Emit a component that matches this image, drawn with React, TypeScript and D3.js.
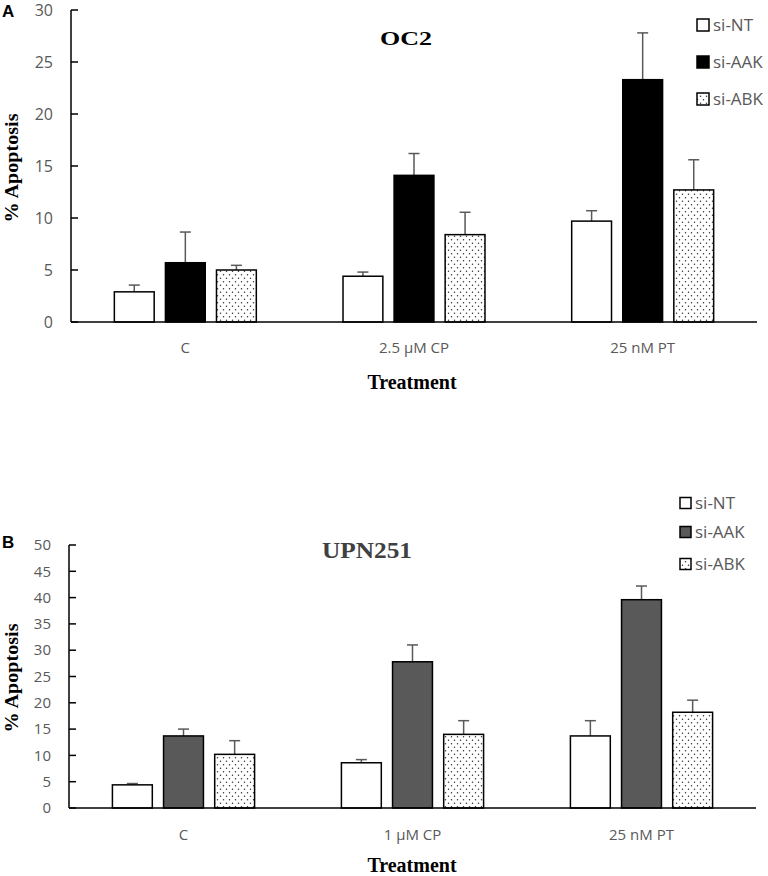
import * as d3 from "d3";

const seriesNames = ["si-NT", "si-AAK", "si-ABK"];

const categoriesA = ["C", "2.5 µM CP", "25 nM PT"];
const meanA = [
  [2.9, 4.4, 9.7],
  [5.7, 14.1, 23.3],
  [5.0, 8.4, 12.7],
];
const errA = [
  [0.65, 0.4, 1.0],
  [2.95, 2.1, 4.5],
  [0.45, 2.15, 2.9],
];
const yTicksA = [0, 5, 10, 15, 20, 25, 30];

const categoriesB = ["C", "1 µM CP", "25 nM PT"];
const meanB = [
  [4.4, 8.6, 13.7],
  [13.7, 27.8, 39.6],
  [10.2, 14.0, 18.2],
];
const errB = [
  [0.25, 0.6, 2.9],
  [1.3, 3.2, 2.6],
  [2.6, 2.6, 2.3],
];
const yTicksB = [0, 5, 10, 15, 20, 25, 30, 35, 40, 45, 50];

const sans = "'Open Sans', 'Noto Sans', sans-serif";
const serif = "'Liberation Serif', 'DejaVu Serif', serif";
const gray = "#595959";

interface PanelProps {
  id: string;
  letter: string;
  title: string;
  titleSize: number;
  titleLength: number;
  titleColor: string;
  titleX: number;
  titleY: number;
  categories: string[];
  means: number[][];
  errs: number[][];
  yTicks: number[];
  xRange: [number, number];
  yRange: [number, number];
  letterY: number;
  aakFill: string;
  legendX: number;
  legendYs: number[];
  legendSize: number;
  tickFont: number;
  xLabelY: number;
  treatmentY: number;
  yLabelY: number;
}

function Panel(p: PanelProps) {
  const x0 = d3
    .scaleBand<string>()
    .domain(p.categories)
    .range(p.xRange)
    .paddingInner(0.33)
    .paddingOuter(0.165);
  const x1 = d3
    .scaleBand<string>()
    .domain(seriesNames)
    .range([0, x0.bandwidth()])
    .paddingInner(0.22)
    .paddingOuter(0.11);
  const yMax = p.yTicks[p.yTicks.length - 1];
  const y = d3.scaleLinear().domain([0, yMax]).range(p.yRange);

  const fills = ["#ffffff", p.aakFill, `url(#dots-${p.id})`];
  const axisX = p.xRange[0];
  const capW = 11;

  return (
    <g>
      <defs>
        <pattern id={`dots-${p.id}`} width={6} height={7} patternUnits="userSpaceOnUse">
          <rect width={6} height={7} fill="#ffffff" />
          <circle cx={1.5} cy={1.75} r={0.75} fill="#333" />
          <circle cx={4.5} cy={5.25} r={0.75} fill="#333" />
        </pattern>
      </defs>

      <text x={2} y={p.letterY} fontFamily="'Liberation Sans', Arial, sans-serif" fontWeight="bold" fontSize={17}>
        {p.letter}
      </text>

      {/* bars and error bars */}
      {seriesNames.map((s, si) =>
        p.categories.map((c, ci) => {
          const bx = (x0(c) ?? 0) + (x1(s) ?? 0);
          const bw = x1.bandwidth();
          const v = p.means[si][ci];
          const top = p.errs[si][ci] + v;
          const cx = bx + bw / 2;
          return (
            <g key={`${s}-${c}`}>
              <line x1={cx} x2={cx} y1={y(v)} y2={y(top)} stroke={gray} strokeWidth={1.5} />
              <line x1={cx - capW / 2} x2={cx + capW / 2} y1={y(top)} y2={y(top)} stroke={gray} strokeWidth={1.5} />
              <rect
                x={bx}
                y={y(v)}
                width={bw}
                height={y(0) - y(v)}
                fill={fills[si]}
                stroke="#000"
                strokeWidth={1.5}
              />
            </g>
          );
        })
      )}

      {/* y axis */}
      <line x1={axisX} x2={axisX} y1={y(0)} y2={y(yMax)} stroke="#000" strokeWidth={1.5} />
      {p.yTicks.map((t) => (
        <g key={t}>
          <line x1={axisX} x2={axisX + 7} y1={y(t)} y2={y(t)} stroke="#000" strokeWidth={1.5} />
          <text
            x={axisX - 18}
            y={y(t)}
            dy="0.35em"
            textAnchor="end"
            fontFamily={sans}
            fontSize={p.tickFont}
            fill={gray}
          >
            {t}
          </text>
        </g>
      ))}

      {/* x axis */}
      <line x1={axisX} x2={p.xRange[1]} y1={y(0)} y2={y(0)} stroke="#000" strokeWidth={1.5} />
      {p.categories.map((c) => (
        <text
          key={c}
          x={(x0(c) ?? 0) + x0.bandwidth() / 2}
          y={p.xLabelY}
          textAnchor="middle"
          fontFamily={sans}
          fontSize={15}
          fill={gray}
        >
          {c}
        </text>
      ))}

      <text x={412} y={p.treatmentY} textAnchor="middle" fontFamily={serif} fontWeight="bold" fontSize={20}>
        Treatment
      </text>
      <text
        transform={`translate(18,${p.yLabelY}) rotate(-90)`}
        textAnchor="middle"
        fontFamily={serif}
        fontWeight="bold"
        fontSize={18}
        textLength={109}
        lengthAdjust="spacingAndGlyphs"
      >
        % Apoptosis
      </text>

      <text
        x={p.titleX}
        y={p.titleY}
        textAnchor="middle"
        fontFamily={serif}
        fontWeight="bold"
        fontSize={p.titleSize}
        fill={p.titleColor}
        textLength={p.titleLength}
        lengthAdjust="spacingAndGlyphs"
      >
        {p.title}
      </text>

      {/* legend */}
      {seriesNames.map((s, si) => (
        <g key={s}>
          <rect
            x={p.legendX}
            y={p.legendYs[si] - p.legendSize / 2}
            width={p.legendSize}
            height={p.legendSize}
            fill={fills[si]}
            stroke="#000"
            strokeWidth={1.5}
          />
          <text
            x={p.legendX + p.legendSize + 4}
            y={p.legendYs[si]}
            dy="0.36em"
            fontFamily={sans}
            fontSize={17}
            fill={gray}
          >
            {s}
          </text>
        </g>
      ))}
    </g>
  );
}

export default function App() {
  return (
    <div style={{ position: "absolute", left: 0, top: 0 }}>
      <svg width={768} height={876} viewBox="0 0 768 876" style={{ display: "block", background: "#fff" }}>
        <Panel
          id="a"
          letter="A"
          title="OC2"
          titleSize={19}
          titleLength={52}
          titleColor="#000"
          titleX={406}
          titleY={45}
          categories={categoriesA}
          means={meanA}
          errs={errA}
          yTicks={yTicksA}
          xRange={[71, 757]}
          yRange={[322, 10]}
          letterY={17}
          aakFill="#000000"
          legendX={697}
          legendYs={[25, 62, 99]}
          legendSize={12}
          tickFont={16}
          xLabelY={353}
          treatmentY={389}
          yLabelY={168}
        />
        <Panel
          id="b"
          letter="B"
          title="UPN251"
          titleSize={23}
          titleLength={90}
          titleColor="#404040"
          titleX={367}
          titleY={558}
          categories={categoriesB}
          means={meanB}
          errs={errB}
          yTicks={yTicksB}
          xRange={[69, 756]}
          yRange={[808, 545]}
          letterY={548}
          aakFill="#595959"
          legendX={680}
          legendYs={[503, 532, 564]}
          legendSize={11}
          tickFont={15}
          xLabelY={840}
          treatmentY={872}
          yLabelY={678}
        />
      </svg>
    </div>
  );
}
